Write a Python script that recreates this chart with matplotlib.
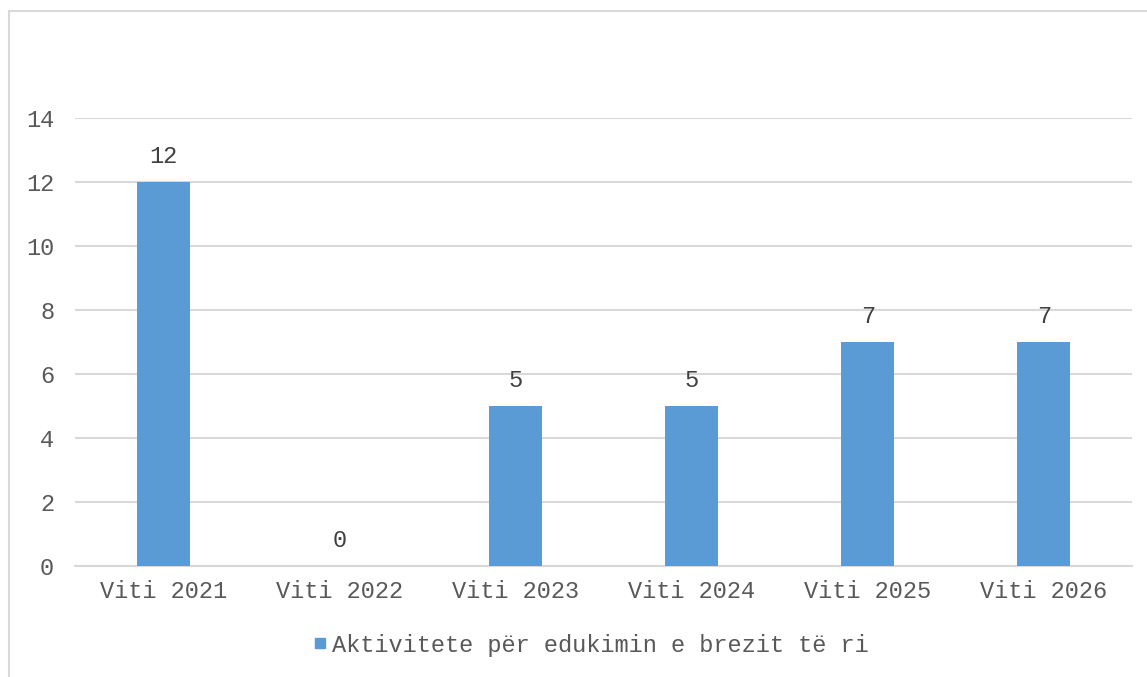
import matplotlib.pyplot as plt
from matplotlib.patches import Rectangle
from matplotlib.lines import Line2D

# --- DADOS ---
anos = ["Viti 2021", "Viti 2022", "Viti 2023", "Viti 2024", "Viti 2025", "Viti 2026"]
valores = [12, 0, 5, 5, 7, 7]
serie_nome = "Aktivitete për edukimin e brezit të ri"
yticks = [0, 2, 4, 6, 8, 10, 12, 14]

cor_barra = "#5b9bd5"
cor_grelha = "#d9d9d9"

plt.rcParams['font.family'] = ['Liberation Mono', 'DejaVu Sans Mono']

fig = plt.figure(figsize=(11.47, 6.77), dpi=100)
ax = fig.add_axes([0.0654, 0.1640, 0.9215, 0.6617])

x = range(len(anos))
ax.bar(x, valores, width=0.30, color=cor_barra, zorder=3, label=serie_nome)

# Rótulos dos valores
for xi, v in zip(x, valores):
    ax.text(xi, v + 0.45, str(v), ha='center', va='bottom', fontsize=17, color='#404040')

ax.set_xlim(-0.5, len(anos) - 0.5)
ax.set_ylim(0, 14)
ax.set_yticks(yticks)
ax.set_xticks(list(x))
ax.set_xticklabels(anos)
ax.tick_params(axis='both', length=0, labelsize=17, labelcolor='#595959')
ax.tick_params(axis='x', pad=10)
ax.tick_params(axis='y', pad=15)

ax.grid(axis='y', color=cor_grelha, linewidth=1.5, zorder=0)
for s in ['top', 'right', 'left']:
    ax.spines[s].set_visible(False)
ax.spines['bottom'].set_color(cor_grelha)
ax.spines['bottom'].set_linewidth(1.5)

# Legenda
handle = Line2D([], [], marker='s', linestyle='none', markersize=7,
                markerfacecolor=cor_barra, markeredgecolor=cor_barra)
fig.legend([handle], [serie_nome], loc='center', bbox_to_anchor=(0.514, 0.047),
           frameon=False, fontsize=17, labelcolor='#595959',
           handletextpad=0.1, handlelength=0.8)

# Borda da área do gráfico
borda = Rectangle((9 / 1147, -0.1), 1.2, 1 - 11 / 677 + 0.1, transform=fig.transFigure,
                  fill=False, edgecolor=cor_grelha, linewidth=1.5)
fig.patches.append(borda)

fig.savefig("out.png", dpi=100)
